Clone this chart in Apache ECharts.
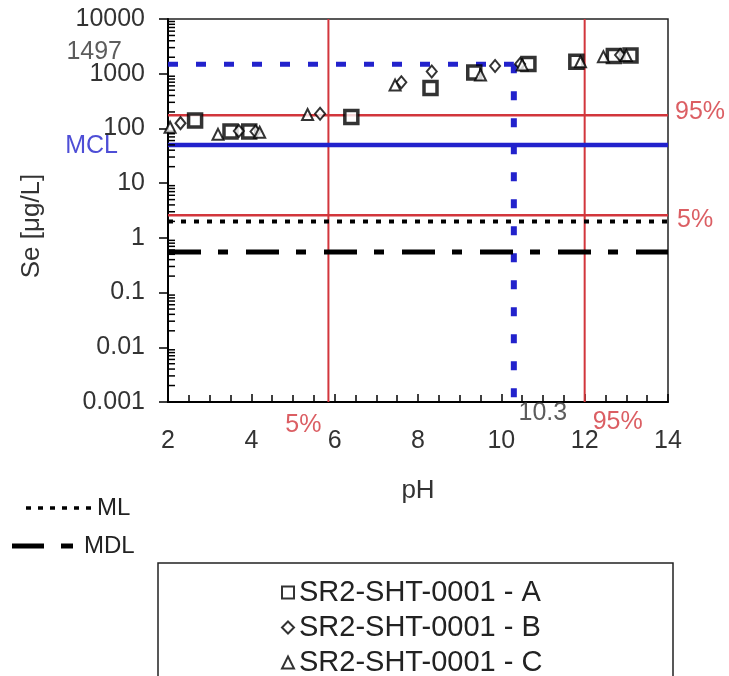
<!DOCTYPE html>
<html><head><meta charset="utf-8">
<script src="https://cdn.jsdelivr.net/npm/echarts@6/dist/echarts.min.js"></script>
<style>html,body{margin:0;padding:0;background:#fff}#c{width:729px;height:676px}</style>
</head><body><div id="c"></div>
<script>
// ---- data ----
const xTickLabels = ['2','4','6','8','10','12','14'];
const yTickValues = [0.001, 0.01, 0.1, 1, 10, 100, 1000, 10000];
const yTickLabels = ['0.001','0.01','0.1','1','10','100','1000','10000'];
const seriesNames = ['SR2-SHT-0001 - A', 'SR2-SHT-0001 - B', 'SR2-SHT-0001 - C'];
const phA = [2.65, 3.5, 3.95, 6.4, 8.3, 9.35, 10.65, 11.8, 12.7, 13.1];
const seA = [140, 88, 88, 162, 550, 1050, 1500, 1650, 2100, 2150];
const phB = [2.3, 3.7, 4.1, 5.65, 7.6, 8.33, 9.85, 10.45, 12.85];
const seB = [125, 90, 88, 185, 700, 1100, 1380, 1500, 2200];
const phC = [2.05, 3.2, 4.2, 5.35, 7.45, 9.5, 10.5, 11.9, 12.45, 13.0];
const seC = [105, 78, 85, 180, 620, 950, 1450, 1650, 2050, 2150];
const mcl = 50, ml = 2, mdl = 0.55;
const se95 = 175, se5 = 2.6;
const ph5 = 5.85, ph95 = 12.0;
const refPh = 10.3, refSe = 1497;
const xMin = 2, xMax = 14, yMin = 0.001, yMax = 10000;
const minorMultipliers = [2, 3, 4, 5, 6, 7, 8, 9];
const minorDecades = [0.001, 0.01, 0.1, 1, 10, 100, 1000];

const FONT = 'Liberation Sans';
const RED = '#d2363c', BLUE = '#2222cc';
const pairs = (xs, ys) => xs.map((x, i) => [x, ys[i]]);
const yMinor = [];
minorDecades.forEach(d => minorMultipliers.forEach(m => yMinor.push([xMin, d * m])));

function yLabel(v) {
  for (let i = 0; i < yTickValues.length; i++) {
    if (Math.abs(Math.log10(v) - Math.log10(yTickValues[i])) < 1e-6) return yTickLabels[i];
  }
  return '';
}
function xLabel(v) {
  const i = xTickLabels.indexOf(String(Math.round(v)));
  return i >= 0 ? xTickLabels[i] : '';
}
function lineSeries(data, color, width, type, z) {
  return { type: 'line', data: data, symbol: 'none', silent: true, z: z || 2,
    lineStyle: { color: color, width: width, type: type }, animation: false };
}
function ann(value, text, color, align, offset) {
  return { value: value, label: { show: true, formatter: text, color: color, align: align,
    verticalAlign: 'middle', position: 'inside', offset: offset, fontFamily: FONT, fontSize: 25 } };
}

const markerBase = { color: '#ffffff', borderColor: '#000000' };
const chart = echarts.init(document.getElementById('c'), null, { renderer: 'canvas' });
chart.setOption({
  animation: false,
  backgroundColor: '#ffffff',
  grid: { left: 168, right: 61, top: 19, bottom: 274, show: true, borderColor: '#222', borderWidth: 1.5, backgroundColor: 'transparent' },
  xAxis: {
    type: 'value', min: xMin, max: xMax, interval: 2,
    name: 'pH', nameLocation: 'middle', nameGap: 76,
    nameTextStyle: { fontFamily: FONT, fontSize: 26, color: '#333' },
    axisLine: { lineStyle: { color: '#000', width: 2 } },
    axisTick: { inside: true, length: 8, lineStyle: { color: '#000', width: 1.5 } },
    minorTick: { show: true, splitNumber: 4, length: 7, lineStyle: { color: '#000', width: 1.5 } },
    axisLabel: { formatter: xLabel, fontFamily: FONT, fontSize: 25, color: '#333', margin: 27 },
    splitLine: { show: false }
  },
  yAxis: {
    type: 'log', logBase: 10, min: yMin, max: yMax, interval: 1,
    axisLine: { lineStyle: { color: '#000', width: 2 } },
    axisTick: { inside: false, length: 9, lineStyle: { color: '#000', width: 1.5 } },
    axisLabel: { formatter: yLabel, fontFamily: FONT, fontSize: 25, color: '#333', margin: 23 },
    splitLine: { show: false }
  },
  legend: {
    data: seriesNames, orient: 'vertical', left: 281, top: 578, height: 200,
    padding: 0, itemGap: 6, itemWidth: 12, itemHeight: 12,
    textStyle: { fontFamily: FONT, fontSize: 29, color: '#222' }
  },
  graphic: [
    { type: 'text', rotation: Math.PI / 2, x: 32, y: 226,
      style: { text: 'Se [μg/L]', align: 'center', verticalAlign: 'middle', font: '26px "Liberation Sans"', fill: '#333' } },
    { type: 'rect', shape: { x: 158, y: 563, width: 515, height: 130 }, style: { fill: 'none', stroke: '#222', lineWidth: 1.5 } },
    { type: 'line', shape: { x1: 26, y1: 508, x2: 92, y2: 508 }, style: { stroke: '#000', lineWidth: 3.5, lineDash: [5, 7] } },
    { type: 'text', style: { text: 'ML', x: 97, y: 508, verticalAlign: 'middle', font: '24px "Liberation Sans"', fill: '#222' } },
    { type: 'line', shape: { x1: 12, y1: 546, x2: 44, y2: 546 }, style: { stroke: '#000', lineWidth: 5 } },
    { type: 'line', shape: { x1: 61, y1: 546, x2: 73, y2: 546 }, style: { stroke: '#000', lineWidth: 5 } },
    { type: 'text', style: { text: 'MDL', x: 84, y: 546, verticalAlign: 'middle', font: '24px "Liberation Sans"', fill: '#222' } }
  ],
  series: [
    { type: 'custom', silent: true, z: 3, data: yMinor,
      renderItem: function (p, api) {
        const pt = api.coord([api.value(0), api.value(1)]);
        return { type: 'line', shape: { x1: pt[0], y1: pt[1], x2: pt[0] + 7, y2: pt[1] },
          style: { stroke: '#000', lineWidth: 1.5 } };
      } },
    lineSeries([[ph5, yMin], [ph5, yMax]], RED, 2),
    lineSeries([[ph95, yMin], [ph95, yMax]], RED, 2),
    lineSeries([[xMin, se95], [xMax, se95]], RED, 2.5),
    lineSeries([[xMin, se5], [xMax, se5]], RED, 2.5),
    lineSeries([[xMin, mcl], [xMax, mcl]], BLUE, 4.5),
    lineSeries([[xMin, refSe], [refPh, refSe]], BLUE, 5, [10, 18]),
    lineSeries([[refPh, refSe], [refPh, yMin]], BLUE, 6, [9, 18]),
    lineSeries([[xMin, ml], [xMax, ml]], '#000', 4, [5, 8]),
    lineSeries([[xMin, mdl], [xMax, mdl]], '#000', 5, [33, 17, 10, 18]),
    { name: seriesNames[0], type: 'scatter', data: pairs(phA, seA), symbol: 'rect', symbolSize: 13, z: 5,
      itemStyle: Object.assign({ borderWidth: 3.5 }, markerBase) },
    { name: seriesNames[1], type: 'scatter', data: pairs(phB, seB), symbol: 'diamond', symbolSize: [10, 12], z: 5,
      itemStyle: Object.assign({ borderWidth: 2 }, markerBase) },
    { name: seriesNames[2], type: 'scatter', data: pairs(phC, seC), symbol: 'triangle', symbolSize: 11, z: 5,
      itemStyle: Object.assign({ borderWidth: 2 }, markerBase) },
    { type: 'scatter', silent: true, symbolSize: 1, z: 6, itemStyle: { color: 'rgba(0,0,0,0)' },
      data: [
        ann([xMin, refSe], String(refSe), '#333', 'right', [-46, -12]),
        ann([xMin, mcl], 'MCL', BLUE, 'right', [-50, 1]),
        ann([xMax, se95], '95%', RED, 'left', [7, -3]),
        ann([xMax, se5], '5%', RED, 'left', [9, 5]),
        ann([ph5, yMin], '5%', RED, 'center', [-25, 23]),
        ann([ph95, yMin], '95%', RED, 'center', [33, 20]),
        ann([refPh, yMin], String(refPh), '#333', 'center', [29, 11])
      ] }
  ]
});
</script></body></html>
